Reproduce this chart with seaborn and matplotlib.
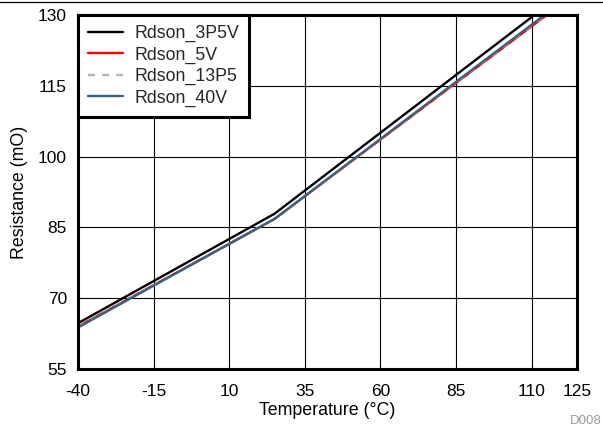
import matplotlib
matplotlib.use("Agg")
import matplotlib.pyplot as plt
import seaborn as sns
import pandas as pd

# Measured on-resistance versus junction temperature
temperature = [-40, 25, 125]
rdson_3p5v = [64.7, 87.9, 136.9]
rdson_5v = [64.0, 86.8, 134.8]
rdson_13p5 = [63.9, 86.8, 135.0]
rdson_40v = [63.8, 86.8, 135.2]

series_names = ["Rdson_3P5V", "Rdson_5V", "Rdson_13P5", "Rdson_40V"]
series_values = [rdson_3p5v, rdson_5v, rdson_13p5, rdson_40v]
series_colors = ["#000000", "#ff0000", "#b4b4b4", "#36647e"]
series_dashes = ["", "", (3, 3), ""]

x_ticks = [-40, -15, 10, 35, 60, 85, 110, 125]
y_ticks = [55, 70, 85, 100, 115, 130]

sns.set_theme(style="white")
plt.rcParams["font.family"] = ["Liberation Sans", "DejaVu Sans"]
plt.rcParams["axes.unicode_minus"] = False

frames = []
for name, vals in zip(series_names, series_values):
    frames.append(pd.DataFrame({"Temperature": temperature, "Rdson": vals, "Series": name}))
df = pd.concat(frames, ignore_index=True)

fig = plt.figure(figsize=(6.03, 4.28), dpi=100)
ax = fig.add_axes([78 / 603, 1 - 369 / 428, 499 / 603, 354 / 428])

sns.lineplot(
    data=df, x="Temperature", y="Rdson", hue="Series", style="Series",
    hue_order=series_names, style_order=series_names,
    palette=dict(zip(series_names, series_colors)),
    dashes=dict(zip(series_names, series_dashes)),
    linewidth=1.7, ax=ax, legend=True,
)

fs = 12.8
ax.set_xlim(-40, 125)
ax.set_ylim(55, 130)
ax.set_xticks(x_ticks)
ax.set_yticks(y_ticks)
ax.tick_params(axis="x", length=0, labelsize=12.5, colors="black", pad=11)
ax.tick_params(axis="y", length=0, labelsize=12.5, colors="black", pad=8)
ax.grid(True, color="black", linewidth=0.8)
for sp in ax.spines.values():
    sp.set_visible(True)
    sp.set_color("black")
    sp.set_linewidth(2.2)

ax.set_xlabel("Temperature (°C)", fontsize=fs, color="black", labelpad=2)
ax.set_ylabel("Resistance (mO)", fontsize=fs, color="black", labelpad=7)

leg = ax.legend(
    loc="upper left", borderaxespad=0, fontsize=fs, frameon=True,
    fancybox=False, handlelength=2.0, labelspacing=0.25, borderpad=0.55,
    handletextpad=0.6,
)
leg.get_frame().set_edgecolor("black")
leg.get_frame().set_linewidth(2.2)
leg.get_frame().set_facecolor("white")
leg.get_frame().set_alpha(1)
for line in leg.get_lines():
    line.set_linewidth(1.7)

# Rule across the top edge and figure identifier
fig.add_artist(plt.Line2D([0, 1], [1 - 1.5 / 428, 1 - 1.5 / 428], color="black", linewidth=0.9))
fig.text(602 / 603, 1 - 421 / 428, "D008", fontsize=9.5, color="#999999", ha="right", va="center")

fig.savefig("out.png", dpi=100)
